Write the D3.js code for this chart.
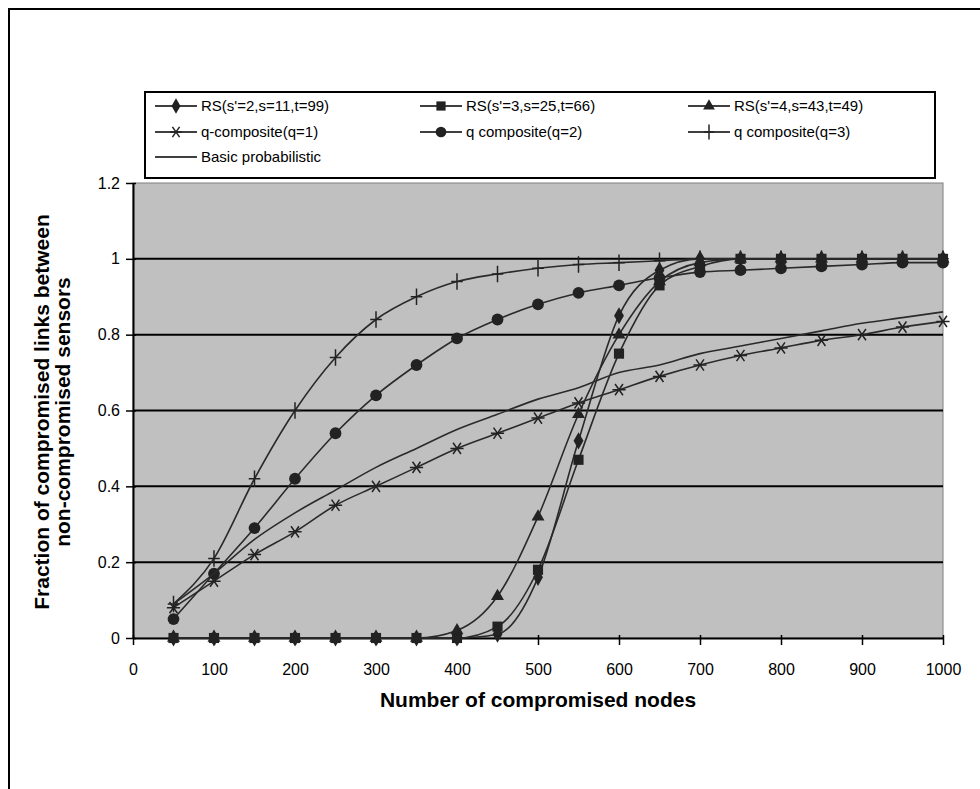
<!DOCTYPE html>
<html>
<head>
<meta charset="UTF-8">
<style>
  body { margin: 0; background: #fff; }
  text { font-family: 'Liberation Sans', Arial, sans-serif; fill: #000; }
  .tick-label { font-size: 16px; }
  .axis-title { font-size: 21px; font-weight: bold; }
  .legend-label { font-size: 15px; }
</style>
</head>
<body>
<svg id="chart" width="980" height="789"></svg>
<script src="https://d3js.org/d3.v7.min.js"></script>
<script>
// x values (number of compromised nodes)
const nodes = [50, 100, 150, 200, 250, 300, 350, 400, 450, 500, 550, 600, 650, 700, 750, 800, 850, 900, 950, 1000];

const rs2 = [0, 0, 0, 0, 0, 0, 0, 0, 0.01, 0.16, 0.52, 0.85, 0.97, 1.0, 1.0, 1.0, 1.0, 1.0, 1.0, 1.0];
const rs3 = [0, 0, 0, 0, 0, 0, 0, 0, 0.03, 0.18, 0.47, 0.75, 0.93, 0.98, 1.0, 1.0, 1.0, 1.0, 1.0, 1.0];
const rs4 = [0, 0, 0, 0, 0, 0, 0, 0.02, 0.11, 0.32, 0.59, 0.80, 0.94, 0.99, 1.0, 1.0, 1.0, 1.0, 1.0, 1.0];
const q1 = [0.08, 0.15, 0.22, 0.28, 0.35, 0.40, 0.45, 0.50, 0.54, 0.58, 0.62, 0.655, 0.69, 0.72, 0.745, 0.765, 0.785, 0.80, 0.82, 0.835];
const q2 = [0.05, 0.17, 0.29, 0.42, 0.54, 0.64, 0.72, 0.79, 0.84, 0.88, 0.91, 0.93, 0.95, 0.965, 0.97, 0.975, 0.98, 0.985, 0.99, 0.99];
const q3 = [0.09, 0.21, 0.42, 0.60, 0.74, 0.84, 0.90, 0.94, 0.96, 0.975, 0.985, 0.99, 0.995, 1.0, 1.0, 1.0, 1.0, 1.0, 1.0, 1.0];
const basic = [0.09, 0.17, 0.26, 0.33, 0.39, 0.45, 0.50, 0.55, 0.59, 0.63, 0.66, 0.70, 0.72, 0.75, 0.77, 0.79, 0.81, 0.83, 0.845, 0.86];

const seriesNames = ["RS(s'=2,s=11,t=99)", "RS(s'=3,s=25,t=66)", "RS(s'=4,s=43,t=49)",
  "q-composite(q=1)", "q composite(q=2)", "q composite(q=3)", "Basic probabilistic"];
const seriesValues = [rs2, rs3, rs4, q1, q2, q3, basic];
const markers = ["diamond", "square", "triangle", "asterisk", "circle", "plus", "none"];

const xTicks = [0, 100, 200, 300, 400, 500, 600, 700, 800, 900, 1000];
const yTicks = [0, 0.2, 0.4, 0.6, 0.8, 1, 1.2];

const svg = d3.select("#chart");

// outer frame (cut off at right and bottom)
svg.append("path")
  .attr("d", "M9,800 L9,9 L990,9")
  .attr("fill", "none").attr("stroke", "#000").attr("stroke-width", 2);

const plot = {left: 133, right: 943, top: 183, bottom: 638};

const x = d3.scaleLinear().domain([0, 1000]).range([plot.left, plot.right]);
const y = d3.scaleLinear().domain([0, 1.2]).range([plot.bottom, plot.top]);

// plot area
svg.append("rect")
  .attr("x", plot.left).attr("y", plot.top)
  .attr("width", plot.right - plot.left).attr("height", plot.bottom - plot.top)
  .attr("fill", "#c0c0c0").attr("stroke", "#808080").attr("stroke-width", 1);

// gridlines
svg.append("g").selectAll("line")
  .data(yTicks.filter(d => d > 0 && d < 1.2))
  .join("line")
    .attr("x1", plot.left).attr("x2", plot.right)
    .attr("y1", d => y(d)).attr("y2", d => y(d))
    .attr("stroke", "#000").attr("stroke-width", 2);

// axes
const xAxis = svg.append("g")
  .attr("transform", "translate(0," + plot.bottom + ")")
  .call(d3.axisBottom(x).tickValues(xTicks).tickSize(7).tickSizeOuter(0).tickFormat(d3.format("d")));
xAxis.select(".domain").attr("stroke-width", 2);
xAxis.selectAll(".tick line").attr("stroke-width", 1.5).attr("y1", -3);
xAxis.selectAll(".tick text").attr("class", "tick-label").attr("font-size", null)
  .attr("font-family", null).attr("y", 26);

const yAxis = svg.append("g")
  .attr("transform", "translate(" + plot.left + ",0)")
  .call(d3.axisLeft(y).tickValues(yTicks).tickSize(7).tickSizeOuter(0).tickFormat(d => d3.format("")(+d.toFixed(1))));
yAxis.select(".domain").attr("stroke-width", 2);
yAxis.selectAll(".tick line").attr("stroke-width", 1.5).attr("x1", 3);
yAxis.selectAll(".tick text").attr("class", "tick-label").attr("font-size", null)
  .attr("font-family", null).attr("x", -13);

// axis titles
svg.append("text").attr("class", "axis-title")
  .attr("x", 538).attr("y", 707).attr("text-anchor", "middle")
  .text("Number of compromised nodes");

const yt = svg.append("text").attr("class", "axis-title")
  .attr("transform", "translate(49,412) rotate(-90)")
  .attr("text-anchor", "middle");
yt.append("tspan").attr("x", 0).attr("y", 0)
  .text("Fraction of compromised links between");
yt.append("tspan").attr("x", 0).attr("y", 21)
  .text("non-compromised sensors");

// marker drawing
function drawMarker(g, type, size) {
  const s = size;
  if (type === "diamond") {
    g.append("path").attr("d", d3.symbol(d3.symbolDiamond, s * s * 0.7)).attr("fill", "#222");
  } else if (type === "square") {
    g.append("path").attr("d", d3.symbol(d3.symbolSquare, s * s * 0.85)).attr("fill", "#222");
  } else if (type === "triangle") {
    g.append("path").attr("d", d3.symbol(d3.symbolTriangle, s * s * 0.6)).attr("fill", "#222");
  } else if (type === "circle") {
    g.append("path").attr("d", d3.symbol(d3.symbolCircle, s * s * 0.9)).attr("fill", "#222");
  } else if (type === "asterisk") {
    const r = s * 0.6;
    g.append("path")
      .attr("d", `M${-r},0L${r},0M${-r * 0.6},${-r * 0.85}L${r * 0.6},${r * 0.85}M${r * 0.6},${-r * 0.85}L${-r * 0.6},${r * 0.85}`)
      .attr("stroke", "#222").attr("stroke-width", 1.5).attr("fill", "none");
  } else if (type === "plus") {
    const r = s * 0.75;
    g.append("path")
      .attr("d", `M${-r * 0.7},0L${r * 0.7},0M0,${-r}L0,${r}`)
      .attr("stroke", "#222").attr("stroke-width", 1.5).attr("fill", "none");
  }
}

const line = d3.line()
  .x((d, i) => x(nodes[i]))
  .y(d => y(d))
  .curve(d3.curveMonotoneX);

seriesValues.forEach((vals, k) => {
  svg.append("path")
    .datum(vals)
    .attr("d", line)
    .attr("fill", "none")
    .attr("stroke", "#2a2a2a")
    .attr("stroke-width", 1.6);
  if (markers[k] !== "none") {
    svg.append("g").selectAll("g")
      .data(vals)
      .join("g")
        .attr("transform", (d, i) => "translate(" + x(nodes[i]) + "," + y(d) + ")")
        .each(function() { drawMarker(d3.select(this), markers[k], 11); });
  }
});

// legend
const legend = svg.append("g");
legend.append("rect")
  .attr("x", 145).attr("y", 92).attr("width", 790).attr("height", 86)
  .attr("fill", "#fff").attr("stroke", "#000").attr("stroke-width", 2);

const legendPos = [
  [155, 106], [420, 106], [688, 106],
  [155, 132], [420, 132], [688, 132],
  [155, 157]
];
seriesNames.forEach((name, k) => {
  const [lx, ly] = legendPos[k];
  const g = legend.append("g").attr("transform", "translate(" + lx + "," + ly + ")");
  g.append("line").attr("x1", 0).attr("x2", 42).attr("y1", 0).attr("y2", 0)
    .attr("stroke", "#000").attr("stroke-width", 1.5);
  const m = g.append("g").attr("transform", "translate(21,0)");
  drawMarker(m, markers[k], 10);
  g.append("text").attr("class", "legend-label")
    .attr("x", 46).attr("y", 5).text(name);
});
</script>
</body>
</html>
